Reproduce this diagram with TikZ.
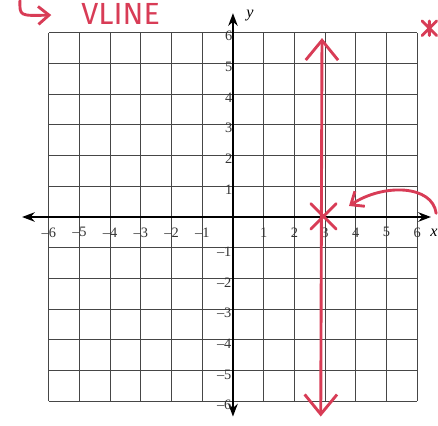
\documentclass[tikz,border=0pt]{standalone}
\usepackage{fontspec}
\setmainfont{Liberation Serif}
\newfontfamily\handfont{Fira Sans}
\usetikzlibrary{arrows.meta,positioning,calc}
\definecolor{penred}{RGB}{216,60,86}
\definecolor{gridgray}{RGB}{70,70,70}

\begin{document}
\begin{tikzpicture}[x=0.6cm,y=0.6cm,>=Stealth,font=\footnotesize,
  pen/.style={penred,line width=1.6pt,line cap=round,line join=round},
  tick/.style={inner sep=1pt,text=black!80}]
 \useasboundingbox (-7.59,-6.78) rectangle (6.68,7.07);
 \draw[gridgray,line width=0.5pt,step=1] (-6,-6) grid (6,6);
 \coordinate (xl) at (-6.87,0);
 \coordinate (xr) at (6.45,0);
 \coordinate (yt) at (0,6.64);
 \coordinate (yb) at (0,-6.5);
 \draw[<->,line width=0.9pt] (xl)--(xr);
 \draw[<->,line width=0.9pt] (yb)--(yt);
 \node[font=\small\itshape] (ylab) at (0.55,6.58) {y};
 \node[font=\small\itshape,anchor=east,inner sep=0pt] (xlab) at (6.68,-0.5) {x};
 \foreach \n in {1,...,6} \node[tick] (xm\n) at (-\n,-0.5) {–\n};
 \foreach \n in {1,...,6} \node[tick] (x\n) at (\n,-0.5) {\n};
 \foreach \n in {1,...,6} \node[tick,anchor=east] (y\n) at (0.05,\n-0.1) {\n};
 \foreach \n in {1,...,6} \node[tick,anchor=east] (ym\n) at (0.02,-\n-0.13) {–\n};
 \coordinate (top) at (2.9,5.83);
 \coordinate (bot) at (2.86,-6.5);
 \draw[pen,{Straight Barb[length=11pt,width=18pt]}-{Straight Barb[length=11pt,width=18pt]}] (bot)--(top);
 \node[minimum size=0.8*0.6cm] (cross) at (2.95,0.02) {};
 \draw[pen] (cross.north west)--(cross.south east) (cross.north east)--(cross.south west);
 \coordinate (from) at (6.62,0.12);
 \coordinate (to) at (3.78,0.36);
 \draw[pen,-{Straight Barb[length=6pt,width=10pt]}] (from) .. controls (6.5,1.05) and (4.9,1.1) .. (to);
 \coordinate (hook) at (-6.94,7.05);
 \coordinate (hookend) at (-5.92,6.58);
 \draw[pen,-{Straight Barb[length=6pt,width=10pt]}] (hook) .. controls (-6.95,6.55) .. (hookend);
 \node[penred,font=\handfont\fontsize{17}{17}\selectfont,inner sep=0pt] (note) at (-3.66,6.62) {VLINE};
 \node[minimum size=0.45*0.6cm] (star) at (6.4,6.15) {};
 \draw[pen] (star.north)--(star.south) (star.north west)--(star.south east) (star.north east)--(star.south west);
\end{tikzpicture}
\end{document}
